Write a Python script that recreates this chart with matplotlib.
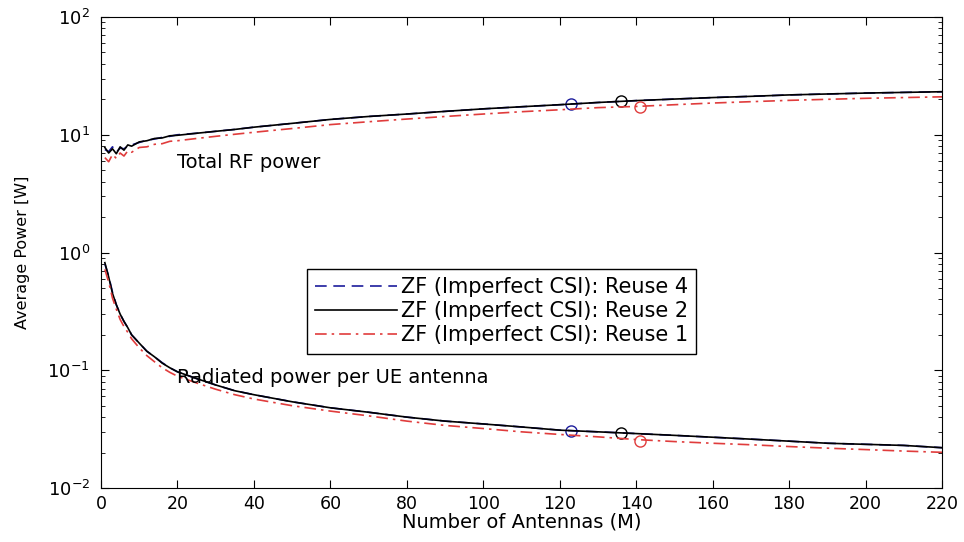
import matplotlib
matplotlib.use("Agg")
import matplotlib.pyplot as plt
from matplotlib.ticker import LogLocator, FixedLocator

plt.rcParams['font.family'] = ['DejaVu Sans']

# number of antennas
M = [1, 2, 3, 4, 5, 6, 7, 8, 10, 12, 14, 16, 18, 20, 25, 30, 35, 40, 50, 60,
     70, 80, 90, 100, 110, 120, 130, 140, 150, 160, 170, 180, 190, 200, 210, 220]

# total RF power [W]
total_reuse4 = [7.5, 7.2, 7.9, 7.1, 7.7, 7.6, 8.0, 8.2, 8.6, 9.0, 9.2, 9.5, 9.7, 10.0,
                10.3, 10.7, 11.1, 11.6, 12.5, 13.5, 14.3, 15.0, 15.8, 16.6, 17.3, 18.0,
                18.8, 19.5, 20.1, 20.7, 21.2, 21.8, 22.2, 22.6, 22.9, 23.2]
total_reuse2 = [7.8, 7.0, 7.6, 6.9, 7.9, 7.4, 8.2, 8.0, 8.7, 8.9, 9.3, 9.4, 9.8, 9.9,
                10.3, 10.7, 11.1, 11.6, 12.5, 13.5, 14.3, 15.0, 15.8, 16.6, 17.3, 18.0,
                18.8, 19.5, 20.1, 20.7, 21.2, 21.8, 22.2, 22.6, 22.9, 23.2]
total_reuse1 = [6.4, 5.9, 6.8, 6.3, 7.0, 6.6, 7.3, 7.1, 7.8, 7.9, 8.3, 8.4, 8.8, 8.9,
                9.3, 9.7, 10.1, 10.5, 11.3, 12.2, 12.9, 13.6, 14.3, 15.0, 15.7, 16.3,
                17.0, 17.4, 18.0, 18.6, 19.1, 19.6, 20.0, 20.4, 20.7, 21.0]

# radiated power per UE antenna [W]
rad_reuse4 = [0.80, 0.63, 0.46, 0.36, 0.30, 0.26, 0.23, 0.20, 0.17, 0.145, 0.13, 0.116,
              0.105, 0.097, 0.085, 0.075, 0.067, 0.062, 0.054, 0.048, 0.044, 0.040, 0.037,
              0.035, 0.033, 0.031, 0.030, 0.029, 0.028, 0.027, 0.026, 0.025, 0.024, 0.0235,
              0.023, 0.022]
rad_reuse2 = [0.82, 0.62, 0.45, 0.36, 0.30, 0.26, 0.23, 0.20, 0.17, 0.145, 0.13, 0.115,
              0.105, 0.097, 0.085, 0.075, 0.067, 0.062, 0.054, 0.048, 0.044, 0.040, 0.037,
              0.035, 0.033, 0.031, 0.030, 0.029, 0.028, 0.027, 0.026, 0.025, 0.024, 0.0235,
              0.023, 0.022]
rad_reuse1 = [0.72, 0.56, 0.41, 0.33, 0.27, 0.235, 0.21, 0.185, 0.155, 0.133, 0.118, 0.105,
              0.096, 0.089, 0.078, 0.069, 0.062, 0.057, 0.050, 0.045, 0.041, 0.037, 0.034,
              0.032, 0.030, 0.0285, 0.0272, 0.0258, 0.0248, 0.024, 0.0233, 0.0225, 0.0218,
              0.0212, 0.0206, 0.0201]

# circle markers (Reuse 4, Reuse 2, Reuse 1)
marker_M = [123, 136, 141]
marker_total = [18.3, 19.4, 17.3]
marker_rad = [0.0302, 0.0293, 0.0253]

labels = ['ZF (Imperfect CSI): Reuse 4', 'ZF (Imperfect CSI): Reuse 2',
          'ZF (Imperfect CSI): Reuse 1']
colors = ['#1c1c9c', 'black', '#e03c3c']
styles = [(0, (7, 4)), '-', (0, (7, 3, 1.5, 3))]

fig = plt.figure(figsize=(9.64, 5.42), dpi=100)
ax = fig.add_axes([0.1048, 0.0996, 0.8724, 0.869])

totals = [total_reuse4, total_reuse2, total_reuse1]
rads = [rad_reuse4, rad_reuse2, rad_reuse1]
handles = []
for i in range(3):
    h, = ax.plot(M, totals[i], color=colors[i], linestyle=styles[i], lw=1.2, label=labels[i])
    ax.plot(M, rads[i], color=colors[i], linestyle=styles[i], lw=1.2)
    ax.plot(marker_M[i], marker_total[i], 'o', mfc='none', mec=colors[i], ms=8, mew=1)
    ax.plot(marker_M[i], marker_rad[i], 'o', mfc='none', mec=colors[i], ms=8, mew=1)
    handles.append(h)

ax.set_yscale('log')
ax.set_xlim(0, 220)
ax.set_ylim(1e-2, 1e2)
ax.xaxis.set_major_locator(FixedLocator(range(0, 221, 20)))
ax.yaxis.set_major_locator(LogLocator(base=10, numticks=10))
ax.yaxis.set_minor_locator(LogLocator(base=10, subs=range(2, 10), numticks=20))
ax.tick_params(which='both', direction='in', top=True, right=True)
ax.tick_params(axis='x', labelsize=12.5, pad=5)
ax.tick_params(axis='y', labelsize=13, pad=8)
ax.tick_params(which='major', length=6)
ax.tick_params(which='minor', length=3)

ax.text(20, 5.8, 'Total RF power', fontsize=14, va='center', ha='left')
ax.text(20, 0.087, 'Radiated power per UE antenna', fontsize=14, va='center', ha='left')

ax.set_xlabel('Number of Antennas (M)', fontsize=14)
ax.xaxis.set_label_coords(0.5, -0.052)
ax.set_ylabel('Average Power [W]', fontsize=11.5)
ax.yaxis.set_label_coords(-0.084, 0.5)

leg = ax.legend(handles=handles, loc='upper left', bbox_to_anchor=(0.245, 0.466),
                borderaxespad=0, fontsize=15, handlelength=3.9, handletextpad=0.2,
                borderpad=0.4, labelspacing=0.2, fancybox=False, framealpha=1,
                edgecolor='black')
leg.get_frame().set_linewidth(1.0)
leg.set_zorder(5)

fig.savefig('out.png', dpi=100)
